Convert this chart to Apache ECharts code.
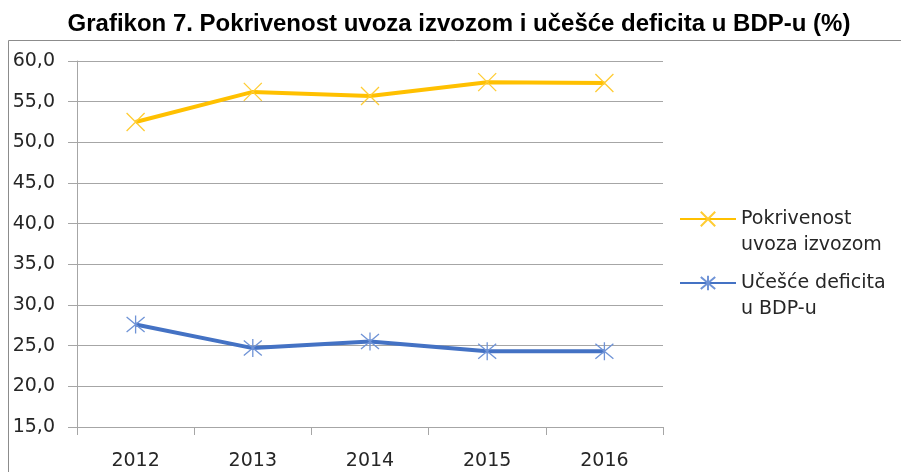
<!DOCTYPE html>
<html>
<head>
<meta charset="utf-8">
<script src="https://cdn.jsdelivr.net/npm/echarts@6/dist/echarts.min.js"></script>
<style>
  html, body { margin: 0; padding: 0; background: #fff; }
  #chart { width: 901px; height: 472px; }
</style>
</head>
<body>
<div id="chart"></div>
<script>
// podaci sa grafikona
var years = ['2012', '2013', '2014', '2015', '2016'];
var pokrivenost = [52.5, 56.2, 55.7, 57.4, 57.3];
var deficit = [27.6, 24.7, 25.5, 24.3, 24.3];
var seriesNames = ['Pokrivenost uvoza izvozom', 'Učešće deficita u BDP-u'];
var legendLines = {
  'Pokrivenost uvoza izvozom': ['Pokrivenost', 'uvoza izvozom'],
  'Učešće deficita u BDP-u': ['Učešće deficita', 'u BDP-u']
};

var crossPath = 'path://M0,0L10,10M10,0L0,10';
var starPath = 'path://M0,0L10,10M10,0L0,10M5,-1L5,11';

var chart = echarts.init(document.getElementById('chart'));

chart.setOption({
  animation: false,
  title: {
    text: 'Grafikon 7. Pokrivenost uvoza izvozom i učešće deficita u BDP-u (%)',
    left: 454,
    textAlign: 'center',
    top: 7,
    textStyle: { fontFamily: 'Liberation Sans', fontWeight: 'bold', fontSize: 24, color: '#000' }
  },
  graphic: [{
    type: 'rect',
    shape: { x: 8.5, y: 40.5, width: 1000, height: 1000 },
    style: { fill: 'none', stroke: '#8c8c8c', lineWidth: 1 },
    silent: true
  }],
  grid: { left: 77, right: 238, top: 61, bottom: 45 },
  legend: {
    orient: 'vertical',
    left: 674,
    top: 175,
    itemWidth: 56,
    itemHeight: 18,
    itemGap: -14,
    // prazan red iznad, da prvi red teksta stoji u visini ikone
    formatter: function (name) {
      var l = legendLines[name];
      return '{s| }\n{t|' + l[0] + '}\n{t|' + l[1] + '}';
    },
    textStyle: {
      fontFamily: 'DejaVu Sans', fontSize: 19, color: '#262626', lineHeight: 26,
      rich: {
        s: { fontSize: 19, lineHeight: 26 },
        t: { fontFamily: 'DejaVu Sans', fontSize: 19, color: '#262626', lineHeight: 26 }
      }
    },
    data: seriesNames
  },
  xAxis: {
    type: 'category',
    data: years,
    boundaryGap: true,
    axisLine: { lineStyle: { color: '#a6a6a6', width: 1 } },
    axisTick: { show: true, length: 8, lineStyle: { color: '#a6a6a6' } },
    axisLabel: { fontFamily: 'DejaVu Sans', fontSize: 19, color: '#262626', margin: 25 }
  },
  yAxis: {
    type: 'value',
    min: 15,
    max: 60,
    interval: 5,
    axisLine: { show: true, lineStyle: { color: '#a6a6a6', width: 1 } },
    axisTick: { show: true, length: 9, lineStyle: { color: '#a6a6a6' } },
    splitLine: { lineStyle: { color: '#a6a6a6', width: 1 } },
    axisLabel: {
      fontFamily: 'DejaVu Sans', fontSize: 19, color: '#262626', margin: 22,
      formatter: function (v) { return v.toFixed(1).replace('.', ','); }
    }
  },
  series: [{
    name: seriesNames[0],
    type: 'line',
    data: pokrivenost,
    symbol: crossPath,
    symbolSize: 18,
    lineStyle: { color: '#ffc000', width: 4 },
    itemStyle: { color: 'rgba(0,0,0,0)', borderColor: '#ffcc33', borderWidth: 1.3 }
  }, {
    name: seriesNames[1],
    type: 'line',
    data: deficit,
    symbol: starPath,
    symbolSize: 18,
    lineStyle: { color: '#4472c4', width: 4 },
    itemStyle: { color: 'rgba(0,0,0,0)', borderColor: '#6f93d6', borderWidth: 1.3 }
  }]
});
</script>
</body>
</html>
